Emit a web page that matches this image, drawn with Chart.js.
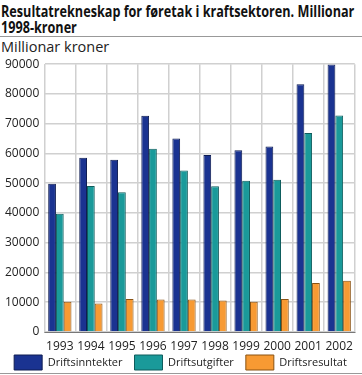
<!DOCTYPE html>
<html>
<head>
<meta charset="utf-8">
<script src="https://cdn.jsdelivr.net/npm/chart.js@4/dist/chart.umd.min.js"></script>
<style>
  body { margin: 0; background: #fff; font-family: "Open Sans", sans-serif; }
  #wrap { position: relative; width: 362px; height: 375px; overflow: hidden; }
  #title { position: absolute; left: 1px; top: 3px; white-space: nowrap; font-weight: bold; font-size: 15.5px; line-height: 16px; color: #111;
           transform: scaleX(0.815); transform-origin: left top; }
  #rule { position: absolute; left: 0; top: 36px; width: 362px; height: 0; border-top: 1px solid #999; }
  #unit { position: absolute; left: 1px; top: 39px; font-size: 14.5px; line-height: 16px; color: #222; }
  #bottom { position: absolute; left: 0; top: 373px; width: 362px; border-top: 1px solid #999; }
  #c { position: absolute; left: 0; top: 52px; }
</style>
</head>
<body>
<div id="wrap">
  <div id="title">Resultatrekneskap for føretak i kraftsektoren. Millionar<br>1998-kroner</div>
  <div id="rule"></div>
  <div id="unit">Millionar kroner</div>
  <canvas id="c" width="362" height="347"></canvas>
  <div id="bottom"></div>
</div>
<script>
const years = ['1993', '1994', '1995', '1996', '1997', '1998', '1999', '2000', '2001', '2002'];
const inntekter = [49800, 58600, 57900, 72700, 65000, 59500, 61100, 62300, 83300, 89900];
const utgifter = [39700, 49100, 47000, 61600, 54300, 49000, 50800, 51200, 66900, 72800];
const resultat = [10200, 9600, 11100, 10900, 10900, 10600, 10200, 11100, 16500, 17200];
const yTicks = [0, 10000, 20000, 30000, 40000, 50000, 60000, 70000, 80000, 90000];

// pull the legend up closer to the axis labels, keeping the wide item spacing
const legendNudge = {
    id: 'legendNudge',
    afterLayout(chart) {
        chart.legend.top -= 19;
        chart.legend.bottom -= 19;
    }
};

const ctx = document.getElementById('c').getContext('2d');

const chart = new Chart(ctx, {
    type: 'bar',
    data: {
        labels: years,
        datasets: [
            { label: 'Driftsinntekter', data: inntekter, backgroundColor: '#1a3391', borderColor: '#0e1c52', borderWidth: 1 },
            { label: 'Driftsutgifter', data: utgifter, backgroundColor: '#1a9a9a', borderColor: '#0f5c5c', borderWidth: 1 },
            { label: 'Driftsresultat', data: resultat, backgroundColor: '#f79a33', borderColor: '#8a5212', borderWidth: 1 }
        ]
    },
    options: {
        responsive: false,
        animation: false,
        datasets: { bar: { categoryPercentage: 0.75, barPercentage: 1 } },
        layout: { padding: { left: 0, right: 1, top: 4, bottom: 0 } },
        plugins: {
            legend: {
                position: 'bottom',
                labels: { boxWidth: 28, boxHeight: 15, padding: 12, color: '#222', font: { family: 'Open Sans', size: 11 } }
            },
            tooltip: { enabled: false }
        },
        scales: {
            x: {
                grid: { color: '#d0d0d0', lineWidth: 1.5, offset: true, drawTicks: false },
                border: { color: '#777' },
                ticks: { color: '#222', padding: 9, maxRotation: 0, font: { family: 'Open Sans', size: 12, lineHeight: 1 } }
            },
            y: {
                min: 0, max: 90000,
                afterBuildTicks: axis => { axis.ticks = yTicks.map(v => ({ value: v })); },
                grid: { color: '#d0d0d0', lineWidth: 1.5, drawTicks: false },
                border: { color: '#d0d0d0' },
                ticks: { color: '#222', padding: 5, callback: v => String(v), font: { family: 'Open Sans', size: 12 } }
            }
        }
    },
    plugins: [legendNudge]
});
</script>
</body>
</html>
